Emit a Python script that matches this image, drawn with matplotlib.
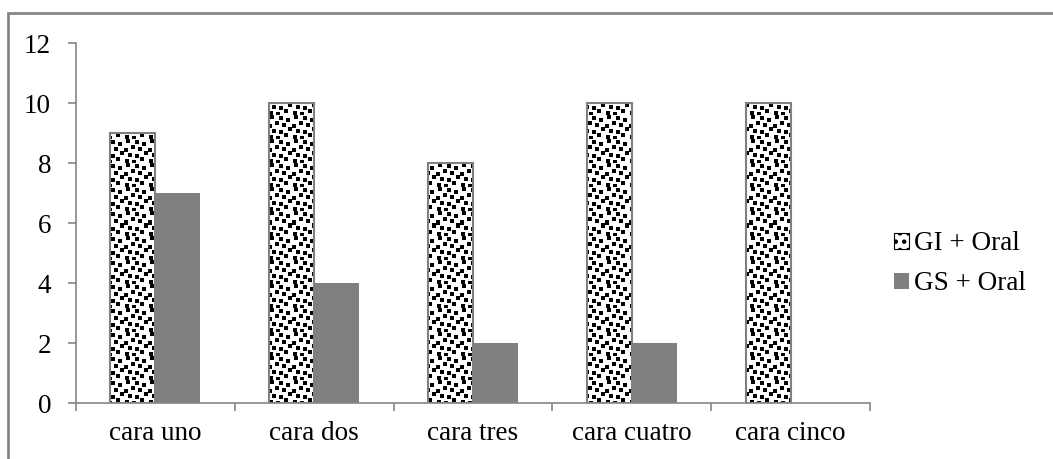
import numpy as np
import matplotlib.pyplot as plt
from matplotlib.patches import Rectangle, Patch

categories = ["cara uno", "cara dos", "cara tres", "cara cuatro", "cara cinco"]
gi_oral = [9, 10, 8, 10, 10]
gs_oral = [7, 4, 2, 2, 0]
y_ticks = [0, 2, 4, 6, 8, 10, 12]

plt.rcParams["font.family"] = ["Liberation Serif", "DejaVu Serif"]
plt.rcParams["hatch.linewidth"] = 2.0
grey = "#868686"

fig = plt.figure(figsize=(10.53, 4.59), dpi=100)
ax = fig.add_axes([0.0722, 0.122, 0.754, 0.784])

x = np.arange(len(categories))
w = 0.283
gi_bars = ax.bar(x - w / 2, gi_oral, w, facecolor="none", edgecolor="#808080",
                 linewidth=1.5, zorder=2, label="GI + Oral")
gs_bars = ax.bar(x + w / 2, gs_oral, w, color="#808080", linewidth=0,
                 zorder=2, label="GS + Oral")

ax.set_xlim(-0.5, len(categories) - 0.5)
ax.set_ylim(0, 12)

# confetti fill: a tile of dark squares repeated over the axes,
# clipped to each GI bar
tile = np.ones((24, 24))
for r, c in [(0, 2), (1, 11), (3, 18), (6, 7), (8, 14), (9, 0),
             (12, 20), (14, 4), (15, 11), (18, 16), (20, 1), (21, 8)]:
    tile[r:r + 4, c:c + 4] = 0
bbox = ax.get_window_extent()
reps = (int(bbox.height) // 24 + 2, int(bbox.width) // 24 + 2)
pattern = np.tile(tile, reps)[:int(bbox.height), :int(bbox.width)]
for bar in gi_bars:
    im = ax.imshow(pattern, cmap="gray", vmin=0, vmax=1, extent=[-0.5, 4.5, 0, 12],
                   aspect="auto", interpolation="nearest", zorder=1.5)
    im.set_clip_path(bar)
ax.set_xlim(-0.5, len(categories) - 0.5)
ax.set_ylim(0, 12)

for s in ["top", "right"]:
    ax.spines[s].set_visible(False)
for s in ["left", "bottom"]:
    ax.spines[s].set_color(grey)
    ax.spines[s].set_linewidth(1.2)

ax.set_yticks(y_ticks)
ax.set_xticks(np.arange(len(categories) + 1) - 0.5)
ax.set_xticklabels([])
ax.set_xticks(x, minor=True)
ax.set_xticklabels(categories, minor=True)
ax.tick_params(axis="x", which="major", length=6, color=grey, width=1.2)
ax.tick_params(axis="x", which="minor", length=0, pad=13, labelsize=19.5)
ax.tick_params(axis="y", length=6, color=grey, width=1.2, pad=12, labelsize=19.5)

handles = [Patch(facecolor="white", edgecolor="black", hatch="..", linewidth=0.8,
                 label="GI + Oral"),
           Patch(facecolor="#808080", label="GS + Oral")]
fig.legend(handles=handles, loc="center left", bbox_to_anchor=(0.826, 0.425),
           frameon=False, fontsize=19.5, handlelength=0.55, handleheight=0.55,
           handletextpad=0.2, labelspacing=0.55)

# outer frame of the chart area
fig.add_artist(Rectangle((8 / 1053, -0.1), 1.2, 1 - 13 / 459 + 0.1,
                         transform=fig.transFigure, fill=False,
                         edgecolor=grey, linewidth=2))

fig.savefig("out.png", dpi=100)
